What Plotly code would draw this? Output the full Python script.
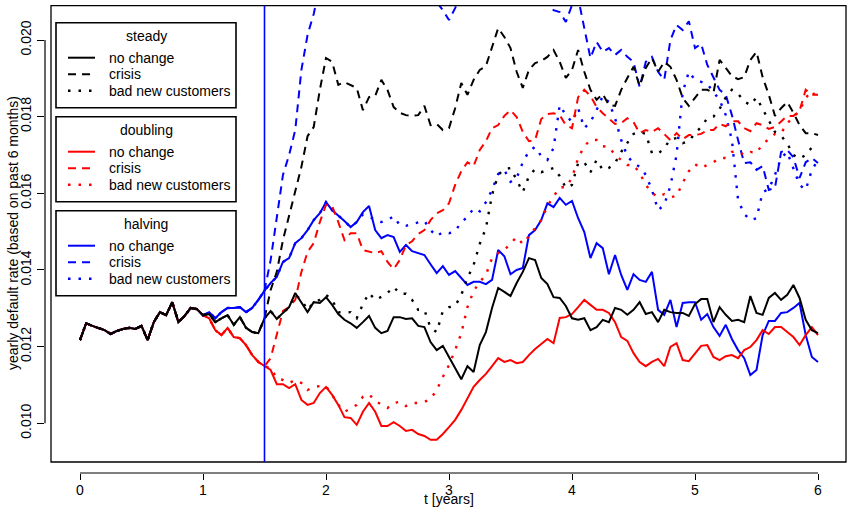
import plotly.graph_objects as go

# ---------------- data ----------------
t = [round(0.05 * i, 2) for i in range(121)]

# common history t = 0 .. 1.0
common = [0.01217, 0.01261, 0.01254, 0.01249, 0.01243, 0.01233, 0.01241, 0.01246, 0.01249, 0.01246,
          0.01254, 0.01217, 0.01264, 0.01290, 0.01282, 0.01316, 0.01264, 0.01280, 0.01301, 0.01298,
          0.01282]

# "no change" paths, t = 1.05 .. 6.0
steady_nochange = [
    0.01285, 0.01264, 0.01274, 0.01282, 0.01257, 0.01277, 0.01249, 0.01238, 0.01235, 0.01274,
    0.01293, 0.01272, 0.01288, 0.01303, 0.01340, 0.01316, 0.01290, 0.01316, 0.01314, 0.01329,
    0.01309, 0.01285, 0.01270, 0.01261, 0.01249, 0.01264, 0.01280, 0.01249, 0.01235, 0.01241,
    0.01277, 0.01277, 0.01272, 0.01274, 0.01254, 0.01251, 0.01212, 0.01191, 0.01202, 0.01173,
    0.01144, 0.01115, 0.01149, 0.01134, 0.01204, 0.01238, 0.01301, 0.01353, 0.01343, 0.01332,
    0.01366, 0.01395, 0.01431, 0.01426, 0.01379, 0.01363, 0.01329, 0.01327, 0.01306, 0.01274,
    0.01270, 0.01274, 0.01243, 0.01251, 0.01270, 0.01264, 0.01301, 0.01296, 0.01283, 0.01296,
    0.01316, 0.01285, 0.01290, 0.01264, 0.01296, 0.01290, 0.01288, 0.01288, 0.01280, 0.01311,
    0.01324, 0.01324, 0.01264, 0.01303, 0.01283, 0.01267, 0.01270, 0.01264, 0.01332, 0.01288,
    0.01283, 0.01327, 0.01340, 0.01322, 0.01335, 0.01361, 0.01327, 0.01270, 0.01243, 0.01235]

doubling_nochange = [
    0.01274, 0.01243, 0.01230, 0.01249, 0.01225, 0.01222, 0.01204, 0.01178, 0.01160, 0.01149,
    0.01139, 0.01102, 0.01102, 0.01092, 0.01102, 0.01061, 0.01048, 0.01053, 0.01079, 0.01095,
    0.01074, 0.01048, 0.01016, 0.01014, 0.00996, 0.01030, 0.01053, 0.01030, 0.00993, 0.00993,
    0.01003, 0.00993, 0.00980, 0.00983, 0.00972, 0.00967, 0.00957, 0.00957, 0.00972, 0.00990,
    0.01009, 0.01035, 0.01066, 0.01095, 0.01113, 0.01129, 0.01149, 0.01170, 0.01160, 0.01165,
    0.01157, 0.01160, 0.01178, 0.01194, 0.01207, 0.01220, 0.01209, 0.01275, 0.01277, 0.01285,
    0.01303, 0.01322, 0.01309, 0.01296, 0.01296, 0.01288, 0.01264, 0.01225, 0.01215, 0.01183,
    0.01160, 0.01149, 0.01160, 0.01168, 0.01149, 0.01199, 0.01209, 0.01165, 0.01162, 0.01183,
    0.01202, 0.01204, 0.01173, 0.01165, 0.01175, 0.01178, 0.01170, 0.01191, 0.01199, 0.01217,
    0.01243, 0.01233, 0.01251, 0.01251, 0.01238, 0.01225, 0.01204, 0.01230, 0.01251, 0.01230]

halving_nochange = [
    0.01290, 0.01274, 0.01290, 0.01301, 0.01301, 0.01303, 0.01290, 0.01301, 0.01322, 0.01346,
    0.01366, 0.01382, 0.01421, 0.01431, 0.01470, 0.01483, 0.01504, 0.01530, 0.01548, 0.01577,
    0.01556, 0.01543, 0.01528, 0.01512, 0.01525, 0.01551, 0.01567, 0.01504, 0.01483, 0.01491,
    0.01486, 0.01447, 0.01465, 0.01449, 0.01444, 0.01439, 0.01415, 0.01392, 0.01410, 0.01387,
    0.01397, 0.01379, 0.01361, 0.01369, 0.01369, 0.01363, 0.01374, 0.01452, 0.01436, 0.01389,
    0.01400, 0.01405, 0.01491, 0.01504, 0.01530, 0.01574, 0.01564, 0.01588, 0.01570, 0.01580,
    0.01535, 0.01499, 0.01431, 0.01470, 0.01457, 0.01389, 0.01439, 0.01387, 0.01348, 0.01389,
    0.01374, 0.01369, 0.01395, 0.01296, 0.01283, 0.01322, 0.01251, 0.01314, 0.01316, 0.01316,
    0.01270, 0.01285, 0.01251, 0.01228, 0.01257, 0.01220, 0.01191, 0.01170, 0.01126, 0.01139,
    0.01230, 0.01267, 0.01267, 0.01288, 0.01290, 0.01301, 0.01314, 0.01230, 0.01173, 0.01160]

# "crisis" and "bad new customers" paths, t = 1.55 .. 6.0
steady_crisis = [
    0.01348, 0.01395, 0.01478, 0.01543, 0.01601, 0.01669, 0.01749, 0.01773, 0.01870, 0.01953,
    0.01943, 0.01883, 0.01890, 0.01883, 0.01875, 0.01817, 0.01851, 0.01854, 0.01896, 0.01870,
    0.01825, 0.01810, 0.01804, 0.01802, 0.01804, 0.01828, 0.01778, 0.01781, 0.01765, 0.01770,
    0.01822, 0.01888, 0.01857, 0.01896, 0.01922, 0.01932, 0.01979, 0.02031, 0.02008, 0.01979,
    0.01917, 0.01875, 0.01922, 0.01940, 0.01945, 0.01956, 0.01974, 0.01943, 0.01901, 0.01922,
    0.01974, 0.01917, 0.01870, 0.01844, 0.01859, 0.01830, 0.01828, 0.01870, 0.01901, 0.01930,
    0.01880, 0.01927, 0.01953, 0.01917, 0.01943, 0.01930, 0.01896, 0.01849, 0.01828, 0.01849,
    0.01870, 0.01870, 0.01862, 0.01948, 0.01927, 0.01906, 0.01898, 0.01903, 0.01948, 0.01969,
    0.01903, 0.01857, 0.01802, 0.01822, 0.01838, 0.01810, 0.01778, 0.01757, 0.01757, 0.01752]

steady_bad = [
    0.01293, 0.01272, 0.01288, 0.01303, 0.01335, 0.01322, 0.01296, 0.01316, 0.01322, 0.01335,
    0.01322, 0.01290, 0.01288, 0.01290, 0.01274, 0.01311, 0.01340, 0.01322, 0.01330, 0.01340,
    0.01356, 0.01338, 0.01338, 0.01322, 0.01296, 0.01296, 0.01249, 0.01238, 0.01293, 0.01303,
    0.01306, 0.01335, 0.01379, 0.01413, 0.01468, 0.01509, 0.01596, 0.01648, 0.01663, 0.01666,
    0.01635, 0.01603, 0.01645, 0.01663, 0.01655, 0.01661, 0.01666, 0.01645, 0.01614, 0.01622,
    0.01679, 0.01681, 0.01655, 0.01687, 0.01661, 0.01666, 0.01679, 0.01708, 0.01731, 0.01755,
    0.01760, 0.01755, 0.01705, 0.01703, 0.01718, 0.01741, 0.01744, 0.01731, 0.01736, 0.01757,
    0.01773, 0.01796, 0.01800, 0.01820, 0.01850, 0.01870, 0.01860, 0.01840, 0.01830, 0.01850,
    0.01820, 0.01790, 0.01760, 0.01750, 0.01730, 0.01700, 0.01690, 0.01700, 0.01720, 0.01730]

doubling_crisis = [
    0.01170, 0.01235, 0.01293, 0.01303, 0.01322, 0.01395, 0.01447, 0.01470, 0.01525, 0.01570,
    0.01567, 0.01525, 0.01478, 0.01496, 0.01496, 0.01452, 0.01449, 0.01444, 0.01449, 0.01421,
    0.01402, 0.01426, 0.01465, 0.01475, 0.01494, 0.01504, 0.01530, 0.01548, 0.01556, 0.01574,
    0.01622, 0.01658, 0.01681, 0.01671, 0.01713, 0.01736, 0.01770, 0.01778, 0.01802, 0.01817,
    0.01799, 0.01760, 0.01736, 0.01739, 0.01794, 0.01807, 0.01809, 0.01804, 0.01778, 0.01770,
    0.01851, 0.01870, 0.01854, 0.01825, 0.01809, 0.01794, 0.01781, 0.01783, 0.01796, 0.01786,
    0.01757, 0.01765, 0.01760, 0.01770, 0.01755, 0.01739, 0.01757, 0.01741, 0.01752, 0.01752,
    0.01755, 0.01765, 0.01765, 0.01781, 0.01775, 0.01788, 0.01788, 0.01770, 0.01762, 0.01783,
    0.01778, 0.01768, 0.01773, 0.01788, 0.01802, 0.01802, 0.01815, 0.01870, 0.01857, 0.01857]

doubling_bad = [
    0.01144, 0.01118, 0.01113, 0.01105, 0.01113, 0.01105, 0.01087, 0.01095, 0.01097, 0.01097,
    0.01074, 0.01048, 0.01030, 0.01040, 0.01048, 0.01069, 0.01076, 0.01058, 0.01050, 0.01040,
    0.01053, 0.01056, 0.01045, 0.01053, 0.01053, 0.01056, 0.01063, 0.01087, 0.01121, 0.01152,
    0.01191, 0.01235, 0.01303, 0.01345, 0.01369, 0.01387, 0.01431, 0.01444, 0.01452, 0.01468,
    0.01486, 0.01468, 0.01488, 0.01509, 0.01530, 0.01567, 0.01593, 0.01616, 0.01616, 0.01640,
    0.01692, 0.01723, 0.01739, 0.01739, 0.01723, 0.01721, 0.01700, 0.01687, 0.01674, 0.01674,
    0.01653, 0.01622, 0.01601, 0.01590, 0.01598, 0.01590, 0.01593, 0.01627, 0.01658, 0.01676,
    0.01666, 0.01674, 0.01681, 0.01692, 0.01692, 0.01708, 0.01710, 0.01700, 0.01708, 0.01705,
    0.01729, 0.01741, 0.01755, 0.01757, 0.01783, 0.01799, 0.01815, 0.01849, 0.01867, 0.01844]

halving_crisis = [
    0.01426, 0.01543, 0.01648, 0.01700, 0.01765, 0.01922, 0.02013, 0.02068, 0.02140, 0.02180,
    0.02200, 0.02210, 0.02230, 0.02200, 0.02220, 0.02250, 0.02230, 0.02200, 0.02180, 0.02200,
    0.02170, 0.02150, 0.02160, 0.02140, 0.02130, 0.02120, 0.02120, 0.02100, 0.02078, 0.02052,
    0.02083, 0.02120, 0.02150, 0.02180, 0.02200, 0.02230, 0.02250, 0.02240, 0.02260, 0.02230,
    0.02210, 0.02190, 0.02170, 0.02140, 0.02120, 0.02100, 0.02078, 0.02073, 0.02047, 0.02091,
    0.02110, 0.02031, 0.01953, 0.01995, 0.01969, 0.01979, 0.01961, 0.01974, 0.01956, 0.01943,
    0.01877, 0.01943, 0.01956, 0.01917, 0.01896, 0.02000, 0.02039, 0.02026, 0.02049, 0.01979,
    0.01990, 0.01935, 0.01901, 0.01870, 0.01857, 0.01804, 0.01739, 0.01679, 0.01681, 0.01661,
    0.01671, 0.01609, 0.01614, 0.01708, 0.01713, 0.01694, 0.01640, 0.01681, 0.01692, 0.01679]

halving_bad = [
    0.01366, 0.01382, 0.01421, 0.01431, 0.01470, 0.01483, 0.01504, 0.01530, 0.01548, 0.01577,
    0.01556, 0.01543, 0.01528, 0.01512, 0.01525, 0.01545, 0.01540, 0.01530, 0.01525, 0.01530,
    0.01540, 0.01517, 0.01515, 0.01520, 0.01525, 0.01528, 0.01504, 0.01488, 0.01499, 0.01496,
    0.01501, 0.01525, 0.01538, 0.01561, 0.01553, 0.01577, 0.01609, 0.01650, 0.01661, 0.01630,
    0.01640, 0.01681, 0.01710, 0.01721, 0.01697, 0.01687, 0.01718, 0.01830, 0.01804, 0.01786,
    0.01822, 0.01770, 0.01786, 0.01817, 0.01854, 0.01838, 0.01796, 0.01739, 0.01697, 0.01679,
    0.01669, 0.01648, 0.01609, 0.01556, 0.01570, 0.01619, 0.01700, 0.01864, 0.01917, 0.01896,
    0.01891, 0.01885, 0.01864, 0.01844, 0.01804, 0.01739, 0.01583, 0.01546, 0.01530, 0.01535,
    0.01603, 0.01611, 0.01648, 0.01692, 0.01708, 0.01666, 0.01622, 0.01609, 0.01661, 0.01687]

x_ticks = [0, 1, 2, 3, 4, 5, 6]
y_ticks = [0.010, 0.012, 0.014, 0.016, 0.018, 0.020]
y_ticklabels = ["0.010", "0.012", "0.014", "0.016", "0.018", "0.020"]
t_switch = 1.5

scenarios = ["steady", "doubling", "halving"]
variants = ["no change", "crisis", "bad new customers"]
colors = {"steady": "#000000", "doubling": "#FF0000", "halving": "#0000FF"}
dashes = {"no change": "solid", "crisis": "8px,6px", "bad new customers": "2.5px,8px"}

series = {
    "steady": (steady_nochange, steady_crisis, steady_bad),
    "doubling": (doubling_nochange, doubling_crisis, doubling_bad),
    "halving": (halving_nochange, halving_crisis, halving_bad),
}

# ---------------- geometry ----------------
W, H = 847, 509
ML, MR, MT, MB = 45, 1, 6, 36
PW, PH = W - ML - MR, H - MT - MB


def px(xp):
    return (xp - ML) / PW


def py(yp):
    return (H - MB - yp) / PH


FONT = "Liberation Sans, Arial, Helvetica, sans-serif"

fig = go.Figure()

for scen in ["halving", "doubling", "steady"]:
    nochange, crisis, bad = series[scen]
    full_nochange = common + nochange
    full_crisis = common + nochange[:10] + crisis
    full_bad = common + nochange[:10] + bad
    for var, ys in zip(variants, [full_nochange, full_crisis, full_bad]):
        w = 2.0 if var != "bad new customers" else 2.4
        fig.add_trace(go.Scatter(
            x=t, y=ys, mode="lines", name=f"{scen} - {var}",
            line=dict(color=colors[scen], width=w, dash=dashes[var]),
            showlegend=False, hoverinfo="skip"))

shapes = []
# plot box
shapes.append(dict(type="rect", xref="paper", yref="paper", x0=px(51), x1=px(846), y0=py(462), y1=py(5.7),
                   line=dict(color="black", width=1.3), layer="above"))
# axis lines (R style, only over tick range)
shapes.append(dict(type="line", xref="x", yref="paper", x0=x_ticks[0], x1=x_ticks[-1], y0=0, y1=0,
                   line=dict(color="black", width=1.2)))
shapes.append(dict(type="line", xref="paper", yref="y", x0=0, x1=0, y0=y_ticks[0], y1=y_ticks[-1],
                   line=dict(color="black", width=1.2)))
# vertical marker
shapes.append(dict(type="line", xref="x", yref="paper", x0=t_switch, x1=t_switch, y0=py(462), y1=py(5.7),
                   line=dict(color="#0000FF", width=1.6)))

annotations = []
# legend boxes
box_tops = [22.7, 116.7, 210.7]
for k, scen in enumerate(scenarios):
    top = box_tops[k]
    bot = top + 85
    shapes.append(dict(type="rect", xref="paper", yref="paper", x0=px(56), x1=px(236), y0=py(bot), y1=py(top),
                       line=dict(color="black", width=1.6), fillcolor="white", layer="above"))
    annotations.append(dict(xref="paper", yref="paper", x=px(146), y=py(top + 13.5), text=scen,
                            showarrow=False, xanchor="center", yanchor="middle",
                            font=dict(family=FONT, size=14, color="black")))
    for j, var in enumerate(variants):
        yy = top + 35 + 16.5 * j
        w = 2.0 if var != "bad new customers" else 2.4
        shapes.append(dict(type="line", xref="paper", yref="paper", x0=px(68), x1=px(95), y0=py(yy), y1=py(yy),
                           line=dict(color=colors[scen], width=w, dash=dashes[var]), layer="above"))
        annotations.append(dict(xref="paper", yref="paper", x=px(107), y=py(yy), text=var,
                                showarrow=False, xanchor="left", yanchor="middle",
                                font=dict(family=FONT, size=14, color="black")))

# axis titles
annotations.append(dict(xref="paper", yref="paper", x=px(448.5), y=py(509.5), text="t [years]",
                        showarrow=False, xanchor="center", yanchor="bottom",
                        font=dict(family=FONT, size=14, color="black")))
annotations.append(dict(xref="paper", yref="paper", x=px(13), y=py(233),
                        text="yearly default rate (based on past 6 months)", textangle=-90,
                        showarrow=False, xanchor="center", yanchor="middle",
                        font=dict(family=FONT, size=14, color="black")))

# ranges so that t=0 -> px 80, t=6 -> px 818, 0.020 -> py 40, 0.010 -> py 423.3
xscale = 123.0
x0 = (ML - 80) / xscale
x1 = (ML + PW - 80) / xscale
yscale = 383.3 / 0.010
y1 = 0.020 + (40 - MT) / yscale
y0 = y1 - PH / yscale

fig.update_layout(
    width=W, height=H,
    margin=dict(l=ML, r=MR, t=MT, b=MB, pad=0, autoexpand=False),
    paper_bgcolor="white", plot_bgcolor="white",
    font=dict(family=FONT, size=14, color="black"),
    shapes=shapes, annotations=annotations,
    xaxis=dict(range=[x0, x1], tickvals=x_ticks, ticktext=[str(v) for v in x_ticks],
               ticks="outside", ticklen=6, tickwidth=1, tickcolor="black", ticklabelstandoff=-2,
               showgrid=False, zeroline=False, showline=False, automargin=False,
               tickfont=dict(family=FONT, size=14, color="black")),
    yaxis=dict(range=[y0, y1], tickvals=y_ticks, ticktext=y_ticklabels, tickangle=-90,
               ticks="outside", ticklen=7, tickwidth=1, tickcolor="black",
               showgrid=False, zeroline=False, showline=False, automargin=False,
               tickfont=dict(family=FONT, size=14, color="black")),
    showlegend=False,
)

fig.write_html("out.html",
               config={"displayModeBar": False, "staticPlot": True},
               post_script="document.body.style.margin='0';document.body.style.padding='0';"
                           "document.body.style.overflow='hidden';")
